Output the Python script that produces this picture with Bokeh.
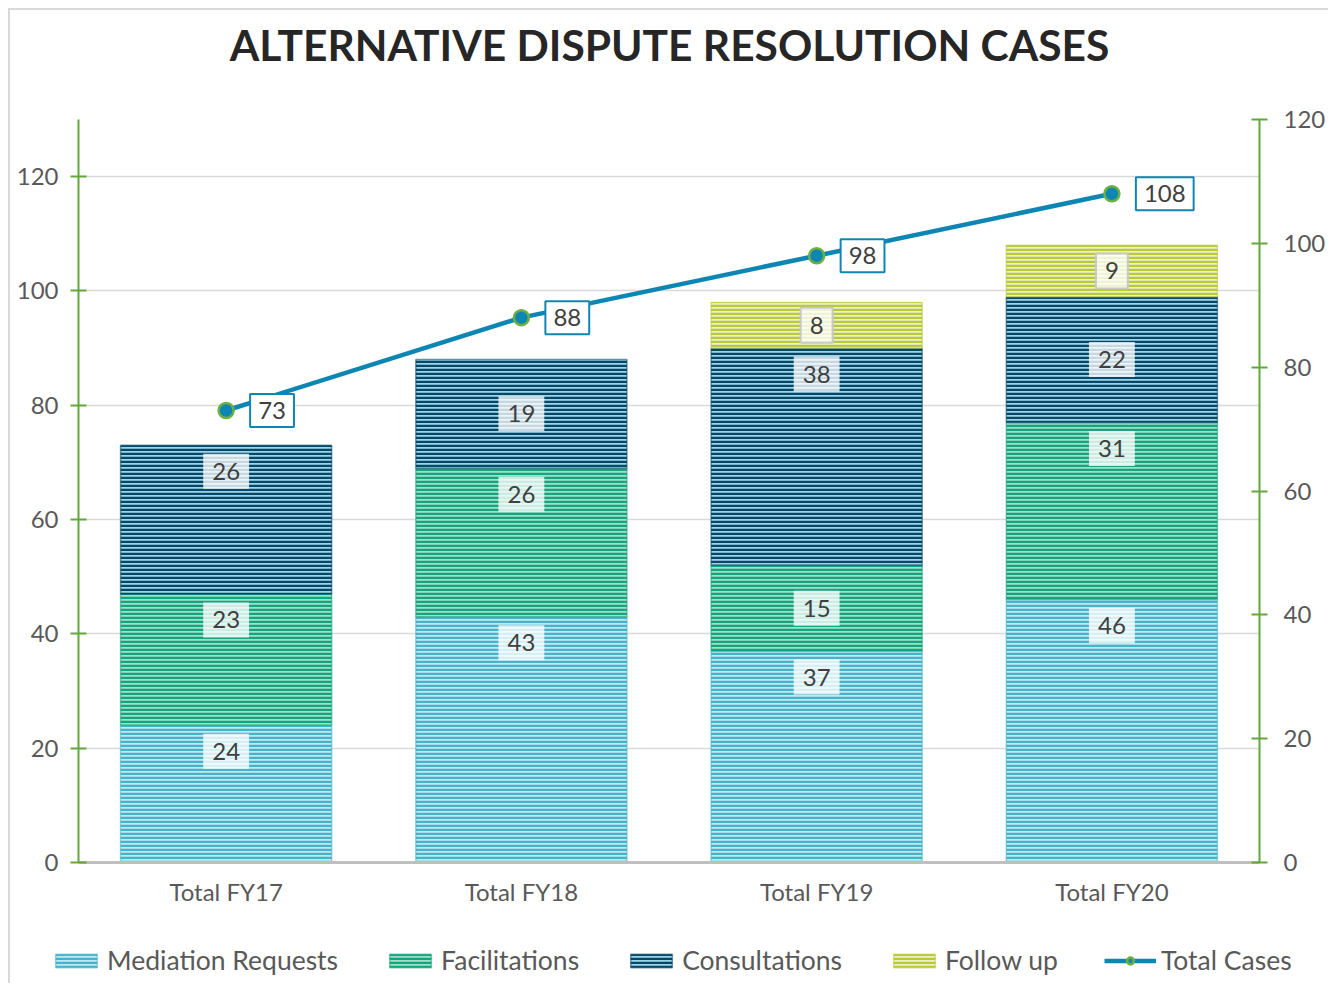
from bokeh.plotting import figure
from bokeh.layouts import column
from bokeh.models import (ColumnDataSource, FactorRange, LinearAxis, Range1d, Legend,
                          LegendItem, FixedTicker)
from bokeh.core.properties import value
from bokeh.embed import file_html
from bokeh.resources import INLINE

# ---------------- data ----------------
title_text = "ALTERNATIVE DISPUTE RESOLUTION CASES"
categories = ["Total FY17", "Total FY18", "Total FY19", "Total FY20"]
mediation_requests = [24, 43, 37, 46]
facilitations = [23, 26, 15, 31]
consultations = [26, 19, 38, 22]
follow_up = [0, 0, 8, 9]
total_cases = [73, 88, 98, 108]
series_names = ["Mediation Requests", "Facilitations", "Consultations", "Follow up"]
left_ticks = [0, 20, 40, 60, 80, 100, 120]
right_ticks = [0, 20, 40, 60, 80, 100, 120]

# ---------------- style ----------------
FONT = "Lato"
TXT = "#595959"
GREEN_AX = "#62A83E"
LINE_BLUE = "#0E86B4"
MARK_EDGE = "#6DB042"
series_style = [
    # (background, stripe)
    ("#C4E8F1", "#45B4CA"),
    ("#9FE0CB", "#15A47E"),
    ("#9AD6EB", "#0A4767"),
    ("#ECF1CC", "#BAC936"),
]
HATCH = dict(hatch_pattern="horizontal_line", hatch_weight=2.5, hatch_scale=4)
W = 1318


def strip(height, **kw):
    f = figure(width=W, height=height, output_backend="svg", toolbar_location=None,
               x_axis_type=None, y_axis_type=None,
               min_border_left=0, min_border_right=0, min_border_top=0,
               min_border_bottom=0, **kw)
    f.frame_align = False
    f.outline_line_color = None
    f.xgrid.grid_line_color = None
    f.ygrid.grid_line_color = None
    return f


# ---------------- title strip ----------------
tf = strip(89, x_range=Range1d(0, 1), y_range=Range1d(0, 1))
tf.title.text = title_text
tf.title.align = "center"
tf.title.vertical_align = "top"
tf.title.text_font = FONT
tf.title.text_font_size = "42.5px"
tf.title.text_font_style = "bold"
tf.title.text_color = "#262626"
tf.title.standoff = 16

# ---------------- main chart ----------------
p = figure(x_range=FactorRange(factors=categories, range_padding=0),
           y_range=Range1d(0, 130),
           width=W, height=819,
           output_backend="svg", toolbar_location=None,
           min_border_left=68, min_border_right=66,
           min_border_top=20, min_border_bottom=56)
p.extra_y_ranges = {"right": Range1d(0, 120)}
p.outline_line_color = None
p.background_fill_color = "white"
p.border_fill_color = "white"

# stacked bars
series_values = [mediation_requests, facilitations, consultations, follow_up]
bottoms = [0] * len(categories)
bar_renderers, bar_sources = [], []
label_x, label_y, label_t, label_border = [], [], [], []
px_per_unit = 743.0 / 130.0
for name, vals, (bg, stripe) in zip(series_names, series_values, series_style):
    idx = [i for i, v in enumerate(vals) if v > 0]
    xs = [categories[i] for i in idx]
    bots = [bottoms[i] for i in idx]
    tops = [bottoms[i] + vals[i] for i in idx]
    src = ColumnDataSource(dict(x=xs, bottom=bots, top=tops))
    bar_sources.append(src)
    r = p.vbar(x="x", bottom="bottom", top="top", width=0.715, source=src,
               fill_color=bg, hatch_color=stripe, line_color=stripe, line_alpha=0.55,
               line_width=1.5, **HATCH)
    bar_renderers.append(r)
    for i in idx:
        top = bottoms[i] + vals[i]
        if vals[i] >= 23:
            y = top - 26.0 / px_per_unit
        else:
            y = bottoms[i] + vals[i] / 2.0
        label_x.append(categories[i])
        label_y.append(y)
        label_t.append(str(vals[i]))
        label_border.append("#C8C8C8" if name == "Follow up" else None)
    bottoms = [bottoms[i] + vals[i] for i in range(len(categories))]

lab_src = ColumnDataSource(dict(x=label_x, y=label_y, t=label_t, b=label_border))
p.text(x="x", y="y", text="t", source=lab_src, text_align="center",
       text_baseline="middle", text_font=value(FONT), text_font_size="24px",
       text_color="#404040", background_fill_color="white", background_fill_alpha=0.78,
       border_line_color="b", border_line_width=2, padding=9)

# total line
line_src = ColumnDataSource(dict(x=categories, y=total_cases, t=[str(v) for v in total_cases]))
lr = p.line(x="x", y="y", source=line_src, y_range_name="right",
            line_color=LINE_BLUE, line_width=4.5)
sr = p.scatter(x="x", y="y", source=line_src, y_range_name="right", size=15,
               fill_color=LINE_BLUE, line_color=MARK_EDGE, line_width=2.5)
p.text(x="x", y="y", text="t", source=line_src, y_range_name="right",
       x_offset=24, text_align="left", text_baseline="middle",
       text_font=value(FONT), text_font_size="24px", text_color="#404040",
       background_fill_color="white", border_line_color=LINE_BLUE,
       border_line_width=2, padding=8)

# axes
ax = p.xaxis[0]
ax.axis_line_color = "#BFBFBF"
ax.axis_line_width = 3
ax.major_tick_line_color = None
ax.minor_tick_line_color = None
ax.major_label_text_font = FONT
ax.major_label_text_font_size = "24px"
ax.major_label_text_color = TXT
ax.major_label_standoff = 8

ly = p.yaxis[0]
ly.ticker = FixedTicker(ticks=left_ticks)
ly.axis_line_color = GREEN_AX
ly.axis_line_width = 2
ly.major_tick_line_color = GREEN_AX
ly.major_tick_line_width = 2
ly.major_tick_in = 8
ly.major_tick_out = 8
ly.minor_tick_line_color = None
ly.major_label_text_font = FONT
ly.major_label_text_font_size = "24px"
ly.major_label_text_color = TXT
ly.major_label_standoff = 12

ry = LinearAxis(y_range_name="right", ticker=FixedTicker(ticks=right_ticks))
ry.axis_line_color = GREEN_AX
ry.axis_line_width = 2
ry.major_tick_line_color = GREEN_AX
ry.major_tick_line_width = 2
ry.major_tick_in = 8
ry.major_tick_out = 8
ry.minor_tick_line_color = None
ry.major_label_text_font = FONT
ry.major_label_text_font_size = "24px"
ry.major_label_text_color = TXT
ry.major_label_standoff = 16
p.add_layout(ry, "right")

p.xgrid.grid_line_color = None
p.ygrid.ticker = FixedTicker(ticks=left_ticks)
p.ygrid.grid_line_color = "#D9D9D9"
p.ygrid.grid_line_width = 1.5

# ---------------- legend strip ----------------
lg = strip(65, x_range=FactorRange(factors=categories), y_range=Range1d(0, 1))
leg_renderers = []
for src, (bg, stripe) in zip(bar_sources, series_style):
    leg_renderers.append(lg.vbar(x="x", bottom="bottom", top="top", width=0.715, source=src,
                                 fill_color=bg, hatch_color=stripe, line_color=stripe,
                                 line_alpha=0.55, line_width=1.5, visible=False, **HATCH))
llr = lg.line(x="x", y="y", source=line_src, line_color=LINE_BLUE, line_width=4.5,
              visible=False)
lsr = lg.scatter(x="x", y="y", source=line_src, size=15, fill_color=LINE_BLUE,
                 line_color=MARK_EDGE, line_width=2.5, visible=False)
items = [LegendItem(label=n, renderers=[r]) for n, r in zip(series_names, leg_renderers)]
items.append(LegendItem(label="Total Cases", renderers=[llr, lsr]))
legend = Legend(items=items, orientation="horizontal", location=(40, 7),
                glyph_width=52, glyph_height=17, label_text_font=FONT,
                label_text_font_size="26.5px", label_text_color=TXT,
                spacing=46, label_standoff=5, border_line_color=None,
                background_fill_alpha=0, padding=0, margin=0,
                inactive_fill_alpha=0)
lg.add_layout(legend, "center")

layout = column(tf, p, lg, spacing=0,
                styles={"margin-left": "8px", "margin-top": "8px",
                        "border-left": "2px solid #D9D9D9",
                        "border-top": "2px solid #D9D9D9"})

open("out.html", "w").write(file_html(layout, INLINE))
